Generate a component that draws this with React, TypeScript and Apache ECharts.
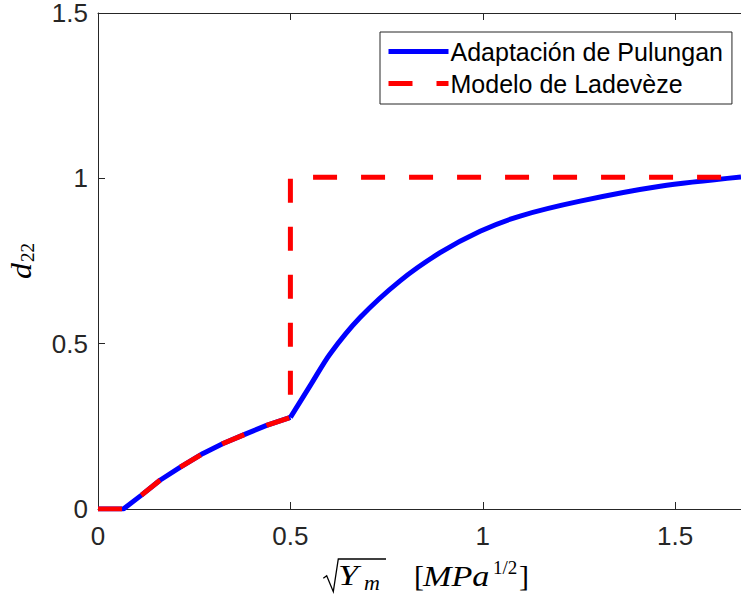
import React, { useEffect, useRef } from "react";
import * as echarts from "echarts";

// x: sqrt(Ym) [MPa^1/2], y: d22
const pulunganLowX = [0, 0.066, 0.113, 0.161, 0.213, 0.273, 0.325, 0.386, 0.438, 0.5];
const pulunganLowY = [0, 0, 0.042, 0.087, 0.126, 0.168, 0.198, 0.228, 0.253, 0.277];
const pulunganHighX = [0.5, 0.555, 0.603, 0.681, 0.785, 0.889, 0.993, 1.097, 1.253, 1.461, 1.671];
const pulunganHighY = [0.277, 0.38, 0.469, 0.579, 0.69, 0.775, 0.84, 0.886, 0.931, 0.976, 1.004];

const ladevezeX = [0, 0.066, 0.113, 0.161, 0.213, 0.273, 0.325, 0.386, 0.438, 0.5, 0.5, 1.671];
const ladevezeY = [0, 0, 0.042, 0.087, 0.126, 0.168, 0.198, 0.228, 0.253, 0.277, 1.003, 1.003];

const seriesNames = ["Adaptación de Pulungan", "Modelo de Ladevèze"];
const xTicks = [0, 0.5, 1, 1.5];
const yTicks = [0, 0.5, 1, 1.5];

const AXIS = "#262626";
const SERIF = "'Liberation Serif', 'DejaVu Serif', serif";
const SANS = "'Liberation Sans', Arial, sans-serif";

export default function App() {
  const ref = useRef<HTMLDivElement>(null);
  useEffect(() => {
    document.body.style.margin = "0";
    if (!ref.current) return;
    const chart = echarts.init(ref.current, null, { renderer: "svg" });
    const xMin = xTicks[0];
    const xMax = 1.671;
    const yMin = yTicks[0];
    const yMax = yTicks[yTicks.length - 1];
    const fmt = (v: number) =>
      xTicks.some((t) => Math.abs(t - v) < 1e-9) || yTicks.some((t) => Math.abs(t - v) < 1e-9) ? String(v) : "";
    const axisCommon = {
      type: "value",
      interval: 0.5,
      splitLine: { show: false },
      axisLine: { show: true, onZero: false, lineStyle: { color: AXIS, width: 1 } },
      axisTick: { show: true, inside: true, length: 7, lineStyle: { color: AXIS, width: 1 } },
    };
    const blueStyle = { color: "#0000ff", width: 5 };
    chart.setOption({
      animation: false,
      grid: { left: 98, right: 0, top: 11, bottom: 88, containLabel: false },
      xAxis: [
        {
          ...axisCommon,
          min: xMin,
          max: xMax,
          position: "bottom",
          axisLabel: { show: true, fontSize: 26, color: AXIS, margin: 14, fontFamily: SANS, formatter: fmt, showMaxLabel: false },
        },
        { ...axisCommon, min: xMin, max: xMax, position: "top", axisLabel: { show: false } },
      ],
      yAxis: [
        {
          ...axisCommon,
          min: yMin,
          max: yMax,
          axisLabel: { show: true, fontSize: 26, color: AXIS, margin: 10, fontFamily: SANS, formatter: fmt },
        },
      ],
      legend: {
        orient: "vertical",
        left: 380,
        top: 32,
        padding: [7, 9, 8, 6],
        itemWidth: 60,
        itemHeight: 24,
        itemGap: 7,
        backgroundColor: "#fff",
        borderColor: AXIS,
        borderWidth: 1,
        itemStyle: { opacity: 0 },
        lineStyle: { width: 5 },
        textStyle: { fontSize: 25, color: "#000", fontFamily: SANS, padding: [0, 0, 0, -3] },
        data: seriesNames,
      },
      series: [
        {
          name: seriesNames[0],
          type: "line",
          showSymbol: false,
          symbol: "none",
          data: pulunganLowX.map((x, i) => [x, pulunganLowY[i]]),
          lineStyle: blueStyle,
          itemStyle: { color: "#0000ff" },
          z: 2,
        },
        {
          name: seriesNames[0],
          type: "line",
          showSymbol: false,
          symbol: "none",
          smooth: 0.3,
          data: pulunganHighX.map((x, i) => [x, pulunganHighY[i]]),
          lineStyle: blueStyle,
          itemStyle: { color: "#0000ff" },
          z: 2,
        },
        {
          name: seriesNames[1],
          type: "line",
          showSymbol: false,
          symbol: "none",
          data: ladevezeX.map((x, i) => [x, ladevezeY[i]]),
          lineStyle: { color: "#ff0000", width: 5, type: [24, 24], cap: "butt" },
          itemStyle: { color: "#ff0000" },
          z: 3,
        },
      ],
      graphic: [
        {
          type: "group",
          x: 31,
          y: 279,
          rotation: Math.PI / 2,
          children: [
            { type: "text", x: 0, y: -10, scaleX: 1.1, style: { text: "d", font: `italic 29px ${SERIF}`, fill: "#000", align: "left", verticalAlign: "middle" } },
            { type: "text", x: 17, y: -4, style: { text: "22", font: `19px ${SERIF}`, fill: "#000", align: "left", verticalAlign: "middle" } },
          ],
        },
        {
          type: "polyline",
          shape: { points: [[323.3, 578.3], [326.7, 575.7], [333.3, 591.7], [338.3, 559], [386, 559]] },
          style: { stroke: "#000", lineWidth: 1.3, fill: null },
        },
        { type: "text", x: 338, y: 575, scaleX: 1.25, style: { text: "Y", font: `italic 29px ${SERIF}`, fill: "#000", align: "left", verticalAlign: "middle" } },
        { type: "text", x: 364, y: 583, scaleX: 1.1, style: { text: "m", font: `italic 20px ${SERIF}`, fill: "#000", align: "left", verticalAlign: "middle" } },
        { type: "text", x: 414, y: 575.5, style: { text: "[", font: `30px ${SERIF}`, fill: "#000", align: "left", verticalAlign: "middle" } },
        { type: "text", x: 423, y: 575.5, scaleX: 1.14, style: { text: "MPa", font: `italic 30px ${SERIF}`, fill: "#000", align: "left", verticalAlign: "middle" } },
        { type: "text", x: 493, y: 567, style: { text: "1/2", font: `19px ${SERIF}`, fill: "#000", align: "left", verticalAlign: "middle" } },
        { type: "text", x: 519, y: 575.5, style: { text: "]", font: `30px ${SERIF}`, fill: "#000", align: "left", verticalAlign: "middle" } },
      ],
    });
    return () => chart.dispose();
  }, []);
  return <div ref={ref} style={{ width: 741, height: 597 }} />;
}
